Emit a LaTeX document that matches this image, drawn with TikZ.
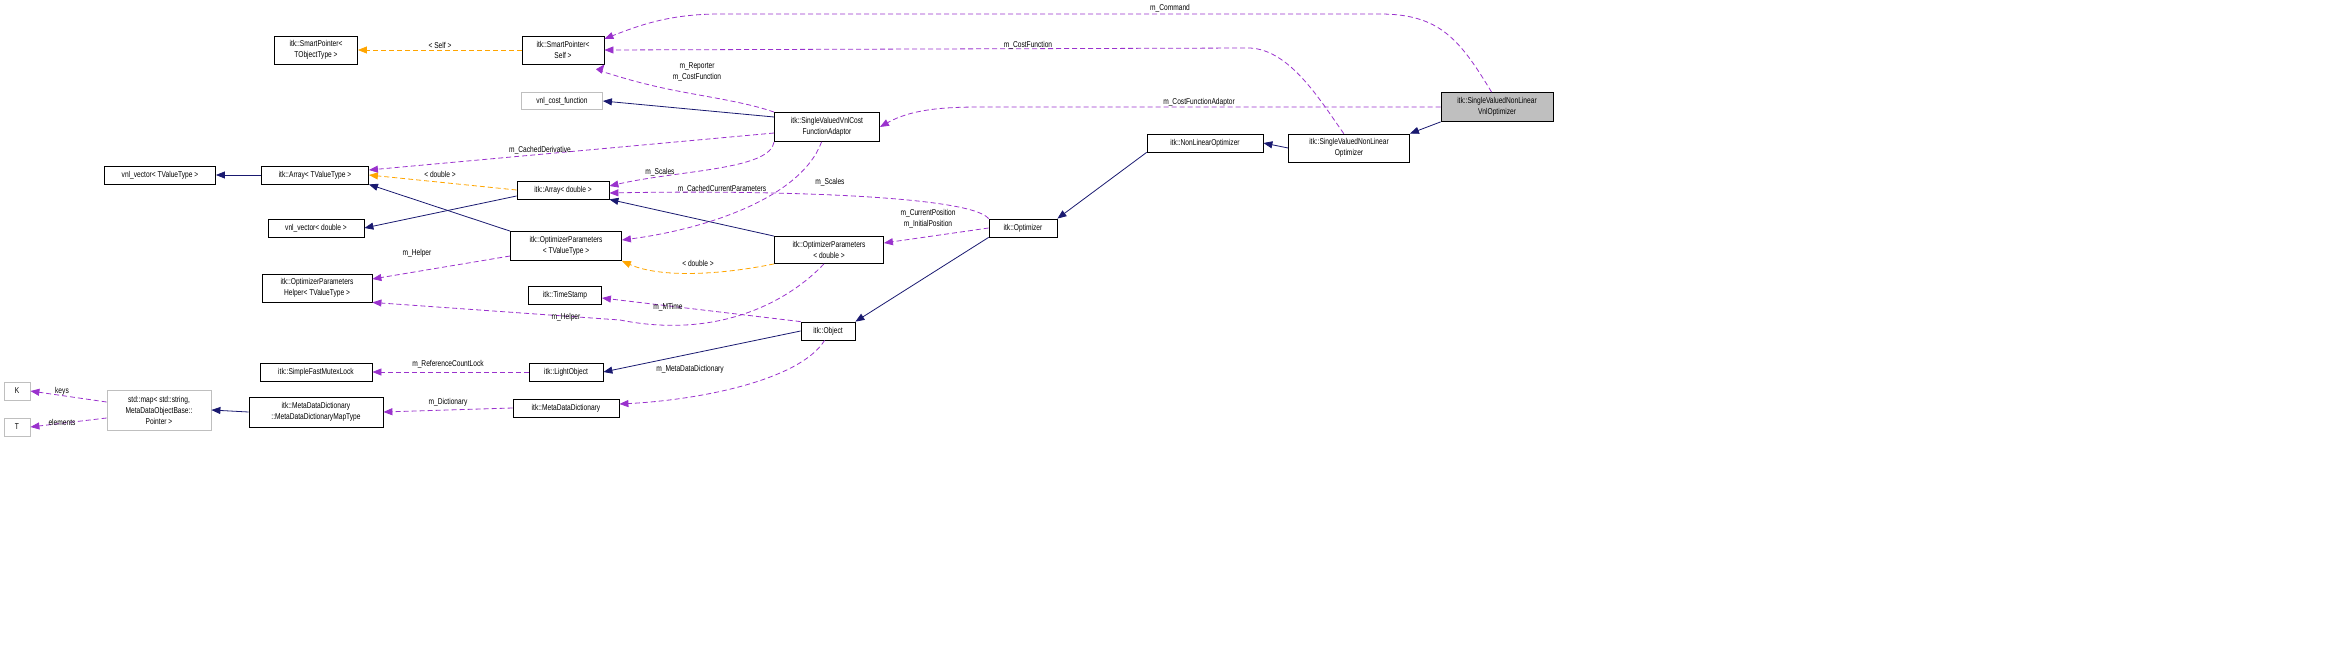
\documentclass[tikz,border=0pt]{standalone}
\usepackage{fontspec}
\setmainfont{Liberation Sans}[FakeStretch=0.78]
\usetikzlibrary{arrows.meta}
\definecolor{member}{HTML}{9A32CD}
\definecolor{inherit}{HTML}{191970}
\definecolor{tmpl}{HTML}{FFA500}
\begin{document}
\begin{tikzpicture}[x=1pt,y=-1pt,>={Triangle[length=9pt,width=7pt]},
        every node/.style={font=\fontsize{8.5}{11}\selectfont,align=center,inner sep=1pt},
        cls/.style={draw=black,thick,fill=white},
        ext/.style={draw=black!25,thick,fill=white},
        focus/.style={draw=black,thick,fill=black!25},
        uses/.style={->,member,dashed,thick,dash pattern=on 5pt off 3pt},
        isa/.style={->,inherit,thick},
        inst/.style={->,tmpl,thick,dashed,dash pattern=on 5pt off 3pt}]
    \useasboundingbox (0,0) rectangle (2325,653);

    % classes
    \node[cls,minimum width=83,minimum height=28] (sp_tobj) at (316,50) {itk::SmartPointer\textless\\TObjectType \textgreater};
    \node[cls,minimum width=82,minimum height=28] (sp_self) at (563,50) {itk::SmartPointer\textless\\Self \textgreater};
    \node[ext,minimum width=81,minimum height=17] (vnl_cost) at (562,101) {vnl\_cost\_function};
    \node[cls,minimum width=105,minimum height=29] (adaptor) at (827,127) {itk::SingleValuedVnlCost\\FunctionAdaptor};
    \node[focus,minimum width=112,minimum height=29] (vnl_opt) at (1497,107) {itk::SingleValuedNonLinear\\VnlOptimizer};
    \node[cls,minimum width=121,minimum height=28] (svnl_opt) at (1349,148) {itk::SingleValuedNonLinear\\Optimizer};
    \node[cls,minimum width=116,minimum height=18] (nl_opt) at (1205,143) {itk::NonLinearOptimizer};
    \node[cls,minimum width=68,minimum height=18] (opt) at (1023,228) {itk::Optimizer};
    \node[cls,minimum width=111,minimum height=18] (vnlvec_t) at (160,175) {vnl\_vector\textless{} TValueType \textgreater};
    \node[cls,minimum width=107,minimum height=18] (array_t) at (315,175) {itk::Array\textless{} TValueType \textgreater};
    \node[cls,minimum width=92,minimum height=18] (array_d) at (563,190) {itk::Array\textless{} double \textgreater};
    \node[cls,minimum width=96,minimum height=18] (vnlvec_d) at (316,228) {vnl\_vector\textless{} double \textgreater};
    \node[cls,minimum width=111,minimum height=29] (optpar_t) at (566,246) {itk::OptimizerParameters\\\textless{} TValueType \textgreater};
    \node[cls,minimum width=109,minimum height=27] (optpar_d) at (829,250) {itk::OptimizerParameters\\\textless{} double \textgreater};
    \node[cls,minimum width=110,minimum height=28] (helper) at (317,288) {itk::OptimizerParameters\\Helper\textless{} TValueType \textgreater};
    \node[cls,minimum width=73,minimum height=18] (tstamp) at (565,295) {itk::TimeStamp};
    \node[cls,minimum width=54,minimum height=18] (object) at (828,331) {itk::Object};
    \node[cls,minimum width=112,minimum height=18] (mutex) at (316,372) {itk::SimpleFastMutexLock};
    \node[cls,minimum width=74,minimum height=18] (lightobj) at (566,372) {itk::LightObject};
    \node[cls,minimum width=106,minimum height=18] (mdd) at (566,408) {itk::MetaDataDictionary};
    \node[cls,minimum width=134,minimum height=30] (mdd_map) at (316,412) {itk::MetaDataDictionary\\::MetaDataDictionaryMapType};
    \node[ext,minimum width=104,minimum height=40,align=center] (stdmap) at (159,410) {std::map\textless{} std::string,\\MetaDataObjectBase::\\Pointer \textgreater};
    \node[ext,minimum width=26,minimum height=18] (key_k) at (17,391) {K};
    \node[ext,minimum width=26,minimum height=18] (key_t) at (17,427) {T};

    % inheritance
    \draw[isa] (adaptor.west |- 0,117) -- (vnl_cost.east);
    \draw[isa] (vnl_opt.south west) -- (svnl_opt.north east);
    \draw[isa] (svnl_opt.west) -- (nl_opt.east);
    \draw[isa] (nl_opt.south west) -- (opt.north east);
    \draw[isa] (array_t.west) -- (vnlvec_t.east);
    \draw[isa] (array_d.west |- 0,196) -- (vnlvec_d.east);
    \draw[isa] (optpar_t.north west) -- (array_t.south east);
    \draw[isa] (optpar_d.north west) -- (array_d.south east);
    \draw[isa] (opt.south west) -- (object.north east);
    \draw[isa] (object.west) -- (lightobj.east);
    \draw[isa] (mdd_map.west) -- (stdmap.east);

    % template instances
    \draw[inst] (sp_self.west) -- (sp_tobj.east);
    \node (lbl_self) at (440,45) {\textless{} Self \textgreater};
    \draw[inst] (array_d.west) -- (array_t.east);
    \node (lbl_dbl1) at (440,174) {\textless{} double \textgreater};
    \draw[inst] (optpar_d.south west) .. controls (720,275) and (660,278) .. (optpar_t.south east);
    \node (lbl_dbl2) at (698,263) {\textless{} double \textgreater};

    % members
    \draw[uses] (vnl_opt.110) .. controls (1460,40) and (1440,14) .. (1380,14) -- (720,14) .. controls (670,14) and (640,25) .. (sp_self.15);
    \node (lbl_cmd) at (1170,8) {m\_Command};
    \draw[uses] (svnl_opt.110) .. controls (1320,100) and (1290,50) .. (1250,48) -- (sp_self.east);
    \node (lbl_cf) at (1028,45) {m\_CostFunction};
    \draw[uses] (adaptor.north west) .. controls (740,100) and (690,95) .. (650,85) .. controls (620,78) and (600,70) .. (sp_self.south east);
    \node (lbl_rep) at (697,72) {m\_Reporter\\m\_CostFunction};
    \draw[uses] (vnl_opt.west) -- (980,107) .. controls (940,107) and (910,110) .. (adaptor.east);
    \node (lbl_cfa) at (1199,102) {m\_CostFunctionAdaptor};
    \draw[uses] (adaptor.west |- 0,133) -- (array_t.east |- 0,170);
    \node (lbl_cder) at (540,150) {m\_CachedDerivative};
    \draw[uses] (adaptor.south west) .. controls (770,170) and (680,170) .. (array_d.east |- 0,186);
    \node (lbl_sc1) at (660,172) {m\_Scales};
    \draw[uses] (adaptor.250) .. controls (800,200) and (700,230) .. (optpar_t.east |- 0,240);
    \node (lbl_ccp) at (722,189) {m\_CachedCurrentParameters};
    \draw[uses] (opt.north west) .. controls (970,195) and (760,190) .. (array_d.east |- 0,193);
    \node (lbl_sc2) at (830,182) {m\_Scales};
    \draw[uses] (opt.west) -- (optpar_d.east |- 0,243);
    \node (lbl_pos) at (928,219) {m\_CurrentPosition\\m\_InitialPosition};
    \draw[uses] (optpar_t.west |- 0,256) -- (helper.east |- 0,279);
    \node (lbl_help1) at (417,253) {m\_Helper};
    \draw[uses] (optpar_d.250) .. controls (790,300) and (720,340) .. (620,320) -- (helper.south east);
    \node (lbl_help2) at (566,317) {m\_Helper};
    \draw[uses] (object.north west) -- (tstamp.east |- 0,298);
    \node (lbl_mt) at (668,307) {m\_MTime};
    \draw[uses] (lightobj.west) -- (mutex.east);
    \node (lbl_rcl) at (448,364) {m\_ReferenceCountLock};
    \draw[uses] (object.250) .. controls (800,380) and (700,400) .. (mdd.east |- 0,404);
    \node (lbl_mdd) at (690,369) {m\_MetaDataDictionary};
    \draw[uses] (mdd.west) -- (mdd_map.east);
    \node (lbl_dict) at (448,402) {m\_Dictionary};
    \draw[uses] (stdmap.west |- 0,402) -- (key_k.east);
    \node (lbl_keys) at (62,391) {keys};
    \draw[uses] (stdmap.west |- 0,418) -- (key_t.east);
    \node (lbl_elem) at (62,422) {elements};
\end{tikzpicture}
\end{document}
